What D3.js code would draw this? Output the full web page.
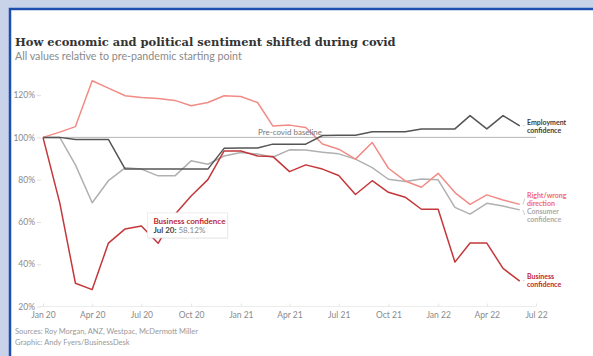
<!DOCTYPE html>
<html>
<head>
<meta charset="utf-8">
<script src="https://cdn.jsdelivr.net/npm/d3@7"></script>
<style>
  html, body { margin: 0; padding: 0; background: #c8d3e9; }
  svg { display: block; }
</style>
</head>
<body>
<svg id="chart" width="593" height="356"></svg>
<script>
const months = ["2020-01","2020-02","2020-03","2020-04","2020-05","2020-06","2020-07","2020-08","2020-09","2020-10","2020-11","2020-12",
                "2021-01","2021-02","2021-03","2021-04","2021-05","2021-06","2021-07","2021-08","2021-09","2021-10","2021-11","2021-12",
                "2022-01","2022-02","2022-03","2022-04","2022-05","2022-06"];
const employment = [100,100,99,99,99,85,85,85,85,85,85,94.8,95,95,96.8,96.8,96.8,100.9,101,101,102.7,102.7,102.7,104,104,104,110.3,104,110.3,105.4];
const rightWrong = [100,102.5,105.1,126.8,123.3,119.7,118.9,118.4,117.5,115,116.5,119.7,119.3,116.5,105.4,105.8,104.7,96.9,94.4,89.7,97.6,85.4,79.4,76.4,83,73.9,68.3,72.8,70.4,68.3];
const consumer = [100,100,87,69.1,79.5,85.6,85,81.8,81.8,88.9,87.3,91.2,92.8,92.1,90.6,94.1,94,93,92.2,89.7,85.7,80.2,79.1,80.3,79.9,66.9,63.7,68.8,67.5,65.7];
const business = [100,69,31,28,50,56.7,58.12,49.9,63.5,72.3,80,93.6,93.6,91.2,91,83.8,87,85,82,73,79.5,74,71.7,66,66,41,50,50,38,32];
const yTicks = [20,40,60,80,100,120];
const xTickLabels = ["Jan 20","Apr 20","Jul 20","Oct 20","Jan 21","Apr 21","Jul 21","Oct 21","Jan 22","Apr 22","Jul 22"];
const xTickDates = ["2020-01","2020-04","2020-07","2020-10","2021-01","2021-04","2021-07","2021-10","2022-01","2022-04","2022-07"];
const seriesNames = ["Employment confidence","Right/wrong direction","Consumer confidence","Business confidence"];

const parse = d3.timeParse("%Y-%m");
const svg = d3.select("#chart");
const sans = "'Source Sans Pro', Lato, 'Open Sans', sans-serif";

// card
svg.append("rect").attr("x", 10).attr("y", 9).attr("width", 600).attr("height", 360)
  .attr("fill", "#fff").attr("stroke", "#1f4fae").attr("stroke-width", 2.5);

function fit(sel, w) {
  const len = sel.node().getComputedTextLength();
  const fs = parseFloat(sel.attr("font-size"));
  sel.attr("font-size", fs * w / len);
}

const title = svg.append("text").attr("x", 15).attr("y", 46)
  .attr("font-family", "'DejaVu Serif', serif").attr("font-weight", "bold")
  .attr("font-size", 13).attr("fill", "#333")
  .text("How economic and political sentiment shifted during covid");
fit(title, 381);

const sub = svg.append("text").attr("x", 15).attr("y", 60)
  .attr("font-family", sans).attr("font-size", 10.5).attr("fill", "#8a8a8a")
  .text("All values relative to pre-pandemic starting point");
fit(sub, 227);

const x = d3.scaleTime().domain([parse("2020-01"), parse("2022-07")]).range([43, 536]);
const y = d3.scaleLinear().domain([20, 120]).range([306.5, 95.1]);

// y axis
const yAxis = svg.append("g").attr("transform", "translate(41,0)")
  .call(d3.axisLeft(y).tickValues(yTicks).tickSize(4).tickPadding(2).tickFormat(d => d + "%"));
yAxis.select(".domain").remove();
yAxis.selectAll("line").attr("stroke", "#e0e0e0");
yAxis.selectAll("text").attr("font-family", sans).attr("font-size", 8.5).attr("fill", "#8a8a8a");

// x axis
const xAxis = svg.append("g").attr("transform", "translate(0,306.5)")
  .call(d3.axisBottom(x).tickValues(xTickDates.map(parse)).tickSize(4).tickPadding(1)
    .tickFormat((d, i) => xTickLabels[i]));
xAxis.select(".domain").attr("stroke", "#ececec").attr("d", "M40,0H536");
xAxis.selectAll("line").attr("stroke", "#e6e6e6").attr("y1", -3).attr("y2", 0);
xAxis.selectAll("text").attr("font-family", sans).attr("font-size", 8.5).attr("fill", "#8a8a8a");

// baseline
svg.append("line").attr("x1", x(parse("2020-01"))).attr("x2", x(parse("2022-07")))
  .attr("y1", y(100)).attr("y2", y(100)).attr("stroke", "#b5b5b5").attr("stroke-width", 1);

const line = d3.line().x((d, i) => x(parse(months[i]))).y(d => y(d));
const series = [
  {name: seriesNames[2], data: consumer, color: "#b0b0b0", label: "#a9a9a9"},
  {name: seriesNames[1], data: rightWrong, color: "#f28b86", label: "#f06b6b"},
  {name: seriesNames[0], data: employment, color: "#555555", label: "#3d3d3d"},
  {name: seriesNames[3], data: business, color: "#c4373a", label: "#c0272d"}
];
series.forEach(s => {
  svg.append("path").datum(s.data).attr("d", line).attr("fill", "none")
    .attr("stroke", s.color).attr("stroke-width", 1.5).attr("stroke-linejoin", "round");
});

svg.append("text").attr("x", 258).attr("y", 134.5)
  .attr("font-family", sans).attr("font-size", 8).attr("fill", "#777")
  .text("Pre-covid baseline");

// end labels
const labelY = {"Employment confidence": 124.5, "Right/wrong direction": 197.5, "Consumer confidence": 214, "Business confidence": 279};
series.forEach(s => {
  const parts = s.name.split(" ");
  const ly = labelY[s.name];
  const ex = x(parse(months[months.length - 1]));
  const ey = y(s.data[s.data.length - 1]);
  svg.append("line").attr("x1", ex + 3).attr("x2", ex + 5).attr("y1", ey).attr("y2", ly + 1)
    .attr("stroke", "#cfcfcf").attr("stroke-width", 1);
  const t = svg.append("text").attr("font-family", sans).attr("font-weight", "bold")
    .attr("font-size", 7).attr("fill", s.label);
  t.append("tspan").attr("x", 527).attr("y", ly).text(parts[0]);
  t.append("tspan").attr("x", 527).attr("y", ly + 8).text(parts[1]);
});

// tooltip
const ti = 6;
const tx = x(parse(months[ti])), ty = y(business[ti]);
const tip = svg.append("g").attr("transform", `translate(${tx + 6},${ty - 13})`);
tip.append("rect").attr("x", 1).attr("y", 1).attr("width", 80).attr("height", 25)
  .attr("fill", "#000").attr("opacity", 0.06).attr("rx", 1);
tip.append("rect").attr("width", 80).attr("height", 25).attr("fill", "#fff")
  .attr("stroke", "#e8e8e8").attr("stroke-width", 0.8);
tip.append("text").attr("x", 6).attr("y", 11).attr("font-family", sans).attr("font-weight", "bold")
  .attr("font-size", 8).attr("fill", "#c0272d").text(seriesNames[3]);
const t2 = tip.append("text").attr("x", 6).attr("y", 20.5).attr("font-family", sans).attr("font-size", 8);
t2.append("tspan").attr("font-weight", "bold").attr("fill", "#444").text("Jul 20: ");
t2.append("tspan").attr("fill", "#888").text(d3.format(".2f")(business[ti]) + "%");

// footer
svg.append("text").attr("x", 15).attr("y", 334).attr("font-family", sans).attr("font-size", 7.5)
  .attr("fill", "#999").text("Sources: Roy Morgan, ANZ, Westpac, McDermott Miller");
svg.append("text").attr("x", 15).attr("y", 345).attr("font-family", sans).attr("font-size", 7.5)
  .attr("fill", "#999").text("Graphic: Andy Fyers/BusinessDesk");
</script>
</body>
</html>
